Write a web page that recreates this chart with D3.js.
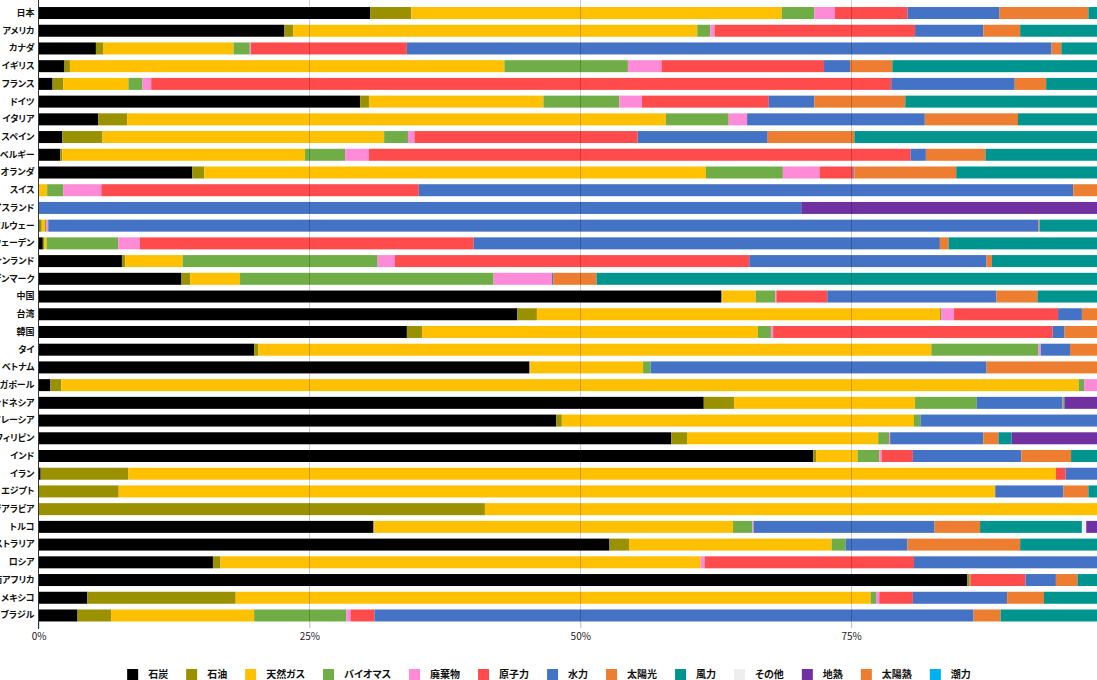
<!DOCTYPE html>
<html lang="ja">
<head>
<meta charset="UTF-8">
<title>電源構成</title>
<script src="https://cdn.jsdelivr.net/npm/d3@7/dist/d3.min.js"></script>
<style>
  body { margin: 0; background: #fff; }
  svg { display: block; overflow: hidden; }
  text { font-family: "Noto Sans CJK JP", "Noto Sans", sans-serif; font-feature-settings: "palt" 1; }
</style>
</head>
<body>
<svg id="chart" width="1097" height="680"></svg>
<script>
// countries, top to bottom
var countries = ["日本","アメリカ","カナダ","イギリス","フランス","ドイツ","イタリア","スペイン","ベルギー","オランダ",
  "スイス","アイスランド","ノルウェー","スウェーデン","フィンランド","デンマーク","中国","台湾","韓国","タイ",
  "ベトナム","シンガポール","インドネシア","マレーシア","フィリピン","インド","イラン","エジプト","サウジアラビア","トルコ",
  "オーストラリア","ロシア","南アフリカ","メキシコ","ブラジル"];

// share of generation, %
var coal       = [30.6,22.7,5.3,2.4,1.3,29.7,5.5,2.2,2.0,14.2,0,0,0.1,0.4,7.7,13.2,63.0,44.2,34.0,19.9,45.3,1.1,61.4,47.8,58.4,71.5,0.2,0,0,30.9,52.7,16.1,85.7,4.5,3.6];
var oil        = [3.8,0.8,0.7,0.5,1.0,0.8,2.7,3.7,0.2,1.1,0,0,0.2,0.15,0.3,0.8,0.1,1.8,1.4,0.4,0.1,1.0,2.8,0.5,1.5,0.3,8.1,7.4,41.2,0.1,1.8,0.7,0.2,13.7,3.1];
var gas        = [34.2,37.3,12.0,40.1,6.0,16.1,49.7,26.0,22.4,46.3,0.8,0,0.3,0.2,5.3,4.6,3.1,37.2,31.0,62.1,10.4,93.9,16.7,32.5,17.6,3.8,85.6,80.9,58.6,33.1,18.7,44.3,0,58.6,13.2];
var biomass    = [3.0,1.2,1.5,11.4,1.3,7.0,5.8,2.2,3.7,7.1,1.5,0,0.1,6.6,18.0,23.4,1.8,0.1,1.2,9.9,0.7,0.5,5.7,0.6,1.0,2.0,0,0,0,1.8,1.3,0,0.1,0.5,8.5];
var waste      = [1.9,0.4,0.1,3.1,0.8,2.1,1.7,0.6,2.2,3.4,3.5,0,0.2,2.0,1.6,5.4,0.1,1.2,0.2,0.2,0,1.5,0,0,0.1,0.2,0,0,0,0.1,0,0.4,0,0.3,0.4];
var nuclear    = [6.7,18.5,14.4,15.0,68.3,11.7,0,20.6,50.0,3.1,29.3,0,0,30.8,32.7,0,4.7,9.6,25.8,0,0,0,0,0,0,2.9,0.9,0,0,0,0,19.3,5.1,3.1,2.2];
var hydro      = [8.5,6.3,59.5,2.4,11.4,4.2,16.4,12.0,1.4,0.1,60.4,70.4,91.4,43.0,21.9,0.1,15.6,2.2,1.1,2.7,31.0,0,7.9,17.5,8.6,10.0,5.2,6.3,0,16.7,5.7,18.5,2.8,8.7,55.3];
var solar      = [8.2,3.4,0.9,3.9,2.9,8.4,8.6,8.0,5.5,9.4,4.5,0,0.1,0.8,0.5,4.0,3.8,2.6,3.5,3.3,11.5,2.0,0.1,1.1,1.4,4.6,0,2.3,0.2,4.2,10.4,0.3,2.0,3.4,2.5];
var wind       = [2.8,8.9,5.6,21.2,7.0,20.0,7.4,22.5,12.6,15.3,0,0,7.6,16.0,12.0,48.5,7.8,1.1,1.8,1.5,1.0,0,0.1,0,1.2,4.7,0,3.1,0,9.4,9.4,0.2,4.1,5.7,11.2];
var other      = [0,0,0,0,0,0,0,0,0,0,0,0,0,0,0,0,0,0,0,0,0,0,0,0,0,0,0,0,0,0.4,0,0,0,0,0];
var geothermal = [0.3,0.4,0,0,0,0,2.2,0,0,0,0,29.6,0,0,0,0,0,0,0,0,0,0,5.3,0,10.2,0,0,0,0,3.3,0,0.2,0,1.5,0];
var solarHeat  = [0,0.1,0,0,0,0,0,2.2,0,0,0,0,0,0,0,0,0,0,0,0,0,0,0,0,0,0,0,0,0,0,0,0,0,0,0];
var tidal      = [0,0,0,0,0,0,0,0,0,0,0,0,0,0,0,0,0,0,0,0,0,0,0,0,0,0,0,0,0,0,0,0,0,0,0];

var sources = ["石炭","石油","天然ガス","バイオマス","廃棄物","原子力","水力","太陽光","風力","その他","地熱","太陽熱","潮力"];
var seriesValues = [coal, oil, gas, biomass, waste, nuclear, hydro, solar, wind, other, geothermal, solarHeat, tidal];
var colors = ["#000000","#999100","#ffc000","#70ad47","#ff8ad8","#ff4b4b","#4472c4","#ed7d31","#00948f","#eeeeee","#7030a0","#ed7d31","#00b0f0"];
var xTicks = [0, 0.25, 0.5, 0.75, 1];

var svg = d3.select("#chart");

// table for d3.stack
var table = countries.map(function(c, i) {
    var row = {country: c};
    sources.forEach(function(s, j) { row[s] = seriesValues[j][i]; });
    return row;
});

var series = d3.stack().keys(sources).offset(d3.stackOffsetExpand)(table);

// plot is wider than the window, right end gets cut off like the original
var xScale = d3.scaleLinear().domain([0, 1]).range([38.5, 1122]);
var yScale = d3.scaleBand().domain(countries).range([1.3, 627.2]).padding(0.323);

svg.append("g")
    .selectAll("g")
    .data(series)
    .enter()
    .append("g")
    .attr("fill", function(d, i) { return colors[i]; })
    .selectAll("rect")
    .data(function(d) { return d; })
    .enter()
    .append("rect")
    .attr("x", function(d) { return xScale(d[0]); })
    .attr("y", function(d) { return yScale(d.data.country); })
    .attr("width", function(d) { return Math.max(0, xScale(d[1]) - xScale(d[0])); })
    .attr("height", yScale.bandwidth());

// grid lines sit on top of the bars
svg.append("g")
    .selectAll("line")
    .data(xTicks.slice(1))
    .enter()
    .append("line")
    .attr("x1", function(d) { return Math.round(xScale(d)) + 0.5; })
    .attr("x2", function(d) { return Math.round(xScale(d)) + 0.5; })
    .attr("y1", 0)
    .attr("y2", 622)
    .attr("stroke", "#000")
    .attr("stroke-opacity", 0.2);

// x axis
var xAxis = svg.append("g")
    .attr("transform", "translate(0,622)")
    .call(d3.axisBottom(xScale).tickValues(xTicks).tickFormat(d3.format(".0%")).tickSize(6).tickPadding(5));
xAxis.select(".domain").remove();
xAxis.selectAll(".tick line").attr("stroke", "#bbb");
xAxis.selectAll(".tick text")
    .attr("fill", "#222")
    .style("font-size", "10px")
    .style("font-family", "'Noto Sans CJK JP', sans-serif");

// y axis
var yAxis = svg.append("g")
    .attr("transform", "translate(38.5,0)")
    .call(d3.axisLeft(yScale).tickSize(0).tickPadding(4));
yAxis.select(".domain").remove();
yAxis.selectAll(".tick text")
    .attr("fill", "#111")
    .style("font-size", "9px")
    .style("font-weight", "bold")
    .style("font-family", "'Noto Sans CJK JP', sans-serif");

svg.append("line")
    .attr("x1", 38.5).attr("x2", 38.5)
    .attr("y1", 0).attr("y2", 629)
    .attr("stroke", "#333");

// legend
var legend = svg.append("g");
var lx = 0;
sources.forEach(function(s, i) {
    var item = legend.append("g").attr("transform", "translate(" + lx + ",0)");
    item.append("rect")
        .attr("x", 0).attr("y", 669)
        .attr("width", 11).attr("height", 11)
        .attr("fill", colors[i]);
    var t = item.append("text")
        .attr("x", 21).attr("y", 674)
        .attr("dy", "0.35em")
        .attr("fill", "#111")
        .style("font-size", "10px")
        .style("font-weight", "bold")
        .text(s);
    lx += 21 + t.node().getComputedTextLength() + 18;
});
var legendWidth = lx - 18;
legend.attr("transform", "translate(" + (549 - legendWidth / 2) + ",0)");
</script>
</body>
</html>
